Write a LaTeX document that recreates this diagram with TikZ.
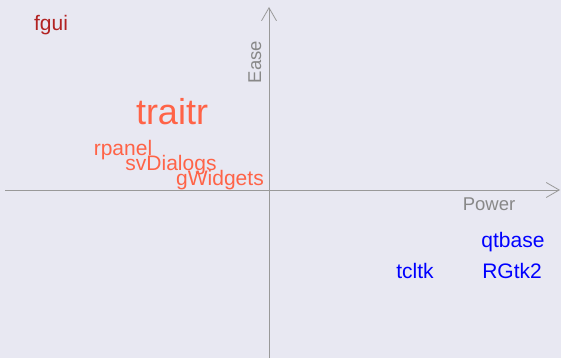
\documentclass[tikz,border=0pt]{standalone}
\usepackage{fontspec}
\setmainfont{Liberation Sans}
\usetikzlibrary{arrows.meta}
\definecolor{panelbg}{HTML}{E8E8F2}
\definecolor{axisgray}{HTML}{999999}
\definecolor{labelgray}{HTML}{888888}
\definecolor{firebrick}{HTML}{B22222}
\definecolor{tomato}{HTML}{FF6347}
\tikzset{
  axisline/.style={draw=axisgray, line width=1pt, -{Straight Barb[length=13pt, width=15pt, line width=0.8pt]}},
  pkg/.style={font=\fontsize{21}{25}\selectfont, anchor=base, inner sep=0pt},
  axislabel/.style={font=\fontsize{18.5}{22}\selectfont, text=labelgray, anchor=base, inner sep=0pt},
}
\begin{document}
\begin{tikzpicture}[x=1pt, y=-1pt]
  % panel
  \fill[panelbg] (0,0) rectangle (561,358);
  \useasboundingbox (0,0) rectangle (561,358);
  % axes
  \coordinate (xstart) at (5,190);
  \coordinate (xend) at (560,190);
  \coordinate (ystart) at (269,358);
  \coordinate (yend) at (269,7);
  \draw[axisline] (xstart) -- (xend);
  \draw[axisline] (ystart) -- (yend);
  % axis labels
  \node[axislabel] (power) at (489,210) {Power};
  \node[axislabel, rotate=90] (ease) at (261,62) {Ease};
  % packages
  \node[pkg, text=firebrick] (fgui) at (51,31) {fgui};
  \node[pkg, text=tomato, font=\fontsize{36}{40}\selectfont] (traitr) at (172,125) {traitr};
  \node[pkg, text=tomato] (rpanel) at (123,155) {rpanel};
  \node[pkg, text=tomato] (svdialogs) at (171,170) {svDialogs};
  \node[pkg, text=tomato] (gwidgets) at (220,185) {gWidgets};
  \node[pkg, text=blue] (qtbase) at (513,247) {qtbase};
  \node[pkg, text=blue] (tcltk) at (415,278) {tcltk};
  \node[pkg, text=blue] (rgtk) at (512,278) {RGtk2};
\end{tikzpicture}
\end{document}
